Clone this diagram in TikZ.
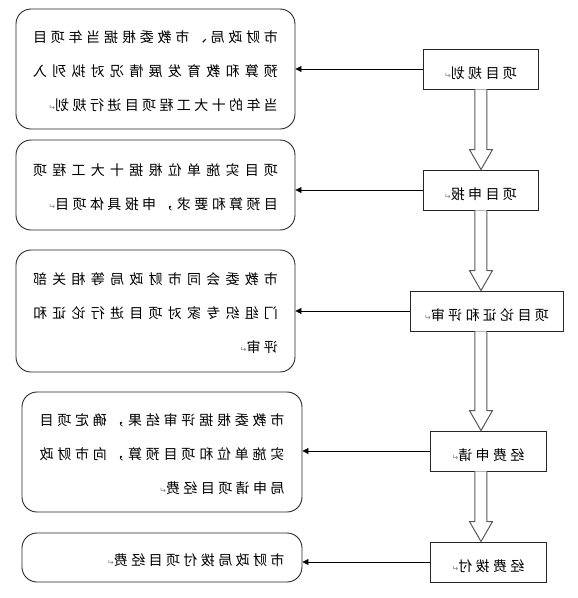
\documentclass[tikz,border=0pt]{standalone}
\usepackage{fontspec}
\setmainfont{Noto Sans CJK SC}[LetterSpace=24]
\newfontfamily\symfont{DejaVu Sans}
\usetikzlibrary{arrows.meta,calc}
\XeTeXlinebreaklocale "zh"
\XeTeXlinebreakskip=3.4pt plus 3pt
\newcommand\enter{{\symfont\color{gray}\fontsize{8pt}{8pt}\selectfont ↵}}
\newcommand\blockarrow[2]{%
  \draw[hollowarrow] ($(#1.south -| spine)+(-6,0)$) -- ($(#2.north -| spine)+(-6,20)$)
    -- ($(#2.north -| spine)+(-11.5,20)$) -- (#2.north -| spine)
    -- ($(#2.north -| spine)+(11.5,20)$) -- ($(#2.north -| spine)+(6,20)$)
    -- ($(#1.south -| spine)+(6,0)$);}
\tikzset{
  stepbox/.style={draw=black!85, line width=0.9pt, minimum height=40pt, inner sep=0pt,
    text height=20pt, text depth=1.7pt, font=\fontsize{14pt}{20pt}\selectfont},
  notebox/.style={draw=black!85, line width=0.9pt, rounded corners=15pt, text width=245pt,
    align=justify, font=\fontsize{14pt}{34pt}\selectfont,
    execute at begin node=\rule{0pt}{17pt}},
  link/.style={draw=black, line width=0.8pt, -{Triangle[length=6pt,width=6pt]}},
  hollowarrow/.style={draw=black!65, line width=1pt, fill=white, line join=miter},
}
\begin{document}
\begin{tikzpicture}[x=1pt, y=1pt, xscale=-1, transform shape]
\useasboundingbox (0,0) rectangle (578,-598);
\coordinate (spine) at (97,0);

% steps
\node[stepbox, minimum width=115pt] (plan) at (97.5,-69) {项目规划\enter};
\node[stepbox, minimum width=115pt] (apply) at (97.5,-190) {项目申报\enter};
\node[stepbox, minimum width=153pt] (review) at (91.5,-311) {项目论证和评审\enter};
\node[stepbox, minimum width=116pt] (fundreq) at (90,-451) {经费申请\enter};
\node[stepbox, minimum width=116pt] (fundpay) at (90,-562) {经费拨付\enter};

% notes
\node[notebox, minimum width=279pt, minimum height=120pt] (noteplan) at (422.5,-69)
  {市财政局、市教委根据当年项目\linebreak 预算和教育发展情况对拟列入\linebreak 当年的十大工程项目进行规划\enter};
\node[notebox, minimum width=279pt, minimum height=90pt] (noteapply) at (422.5,-185)
  {项目实施单位根据十大工程项\linebreak 目预算和要求，申报具体项目\enter};
\node[notebox, minimum width=279pt, minimum height=122pt] (notereview) at (422.5,-311)
  {市教委会同市财政局等相关部\linebreak 门组织专家对项目进行论证和\linebreak 评审\enter};
\node[notebox, minimum width=280pt, minimum height=120pt] (notefundreq) at (416,-452)
  {市教委根据评审结果，确定项目\linebreak 实施单位和项目预算，向市财政\linebreak 局申请项目经费\enter};
\node[notebox, minimum width=280pt, minimum height=49pt] (notefundpay) at (416,-557.5)
  {市财政局拨付项目经费\enter};

% links
\draw[link] (plan.east) -- (plan.east -| noteplan.west);
\draw[link] (apply.east) -- (apply.east -| noteapply.west);
\draw[link] (review.east) -- (review.east -| notereview.west);
\draw[link] (fundreq.east) -- (fundreq.east -| notefundreq.west);
\draw[link] (fundpay.east) -- (fundpay.east -| notefundpay.west);

\blockarrow{plan}{apply}
\blockarrow{apply}{review}
\blockarrow{review}{fundreq}
\blockarrow{fundreq}{fundpay}
\end{tikzpicture}
\end{document}
